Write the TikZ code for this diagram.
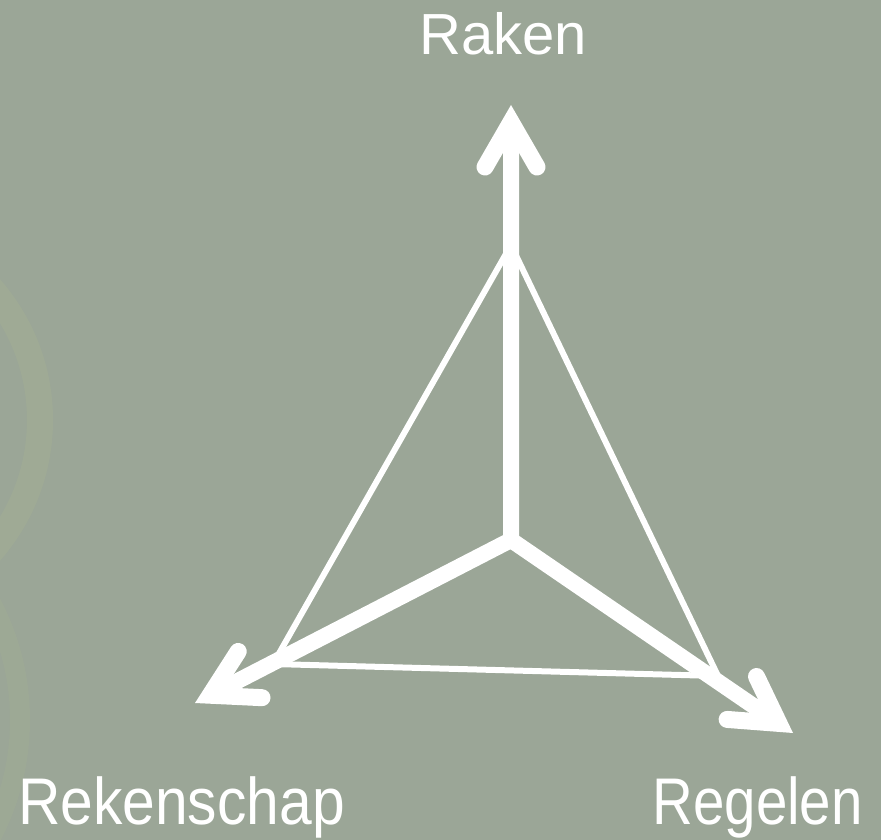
\documentclass[tikz,border=0pt]{standalone}
\usepackage{fontspec}
\setmainfont{Liberation Sans}
\usetikzlibrary{calc}
\definecolor{bg}{HTML}{9BA697}
\definecolor{ringc}{HTML}{A6B293}
\begin{document}
\begin{tikzpicture}[x=1pt,y=-1pt,
  shaft/.style={white,line width=16pt,line join=miter},
  edge/.style={white,line width=6pt,line cap=round},
  headline/.style={white,line width=17pt,line cap=round,line join=miter},
  lbl/.style={white,inner sep=0pt,anchor=base}]
\fill[bg] (0,0) rectangle (881,840);
\useasboundingbox (0,0) rectangle (881,840);
% faint decorative ring
\draw[ringc,opacity=0.4,line width=26pt] (-160,420) circle[radius=200];
\draw[ringc,opacity=0.25,line width=20pt] (-230,720) circle[radius=250];
% points
\coordinate (C) at (511,540);
\coordinate (Ttip) at (511,105);
\coordinate (Ltip) at (195,703);
\coordinate (Rtip) at (793,733);
\coordinate (A) at (511,245);
\coordinate (L) at (273,664);
\coordinate (R) at (718,676);
% head vertices (tip moved back along the shaft)
\coordinate (Tv) at ($(Ttip)!17pt!(C)$);
\coordinate (Lv) at ($(Ltip)!17pt!(C)$);
\coordinate (Rv) at ($(Rtip)!17pt!(C)$);
% thin triangle edges
\draw[edge] (A) -- (L) -- (R) -- cycle;
% thick shafts
\draw[shaft] (Tv) -- (C) -- (Lv);
\draw[shaft] (C) -- (Rv);
% arrow heads
\foreach \v in {Tv,Lv,Rv}{
  \draw[headline] ($(\v)!52pt!30:(C)$) -- (\v) -- ($(\v)!52pt!-30:(C)$);
}
% labels
\node[lbl] (raken) at (503,55) {\fontsize{58}{60}\selectfont Raken};
\node[lbl,anchor=base west] (rek) at (18,824) {\scalebox{0.89}[1]{\fontsize{66}{68}\selectfont Rekenschap}};
\node[lbl,anchor=base east] (reg) at (863,824) {\scalebox{0.855}[1]{\fontsize{66}{68}\selectfont Regelen}};
\end{tikzpicture}
\end{document}
